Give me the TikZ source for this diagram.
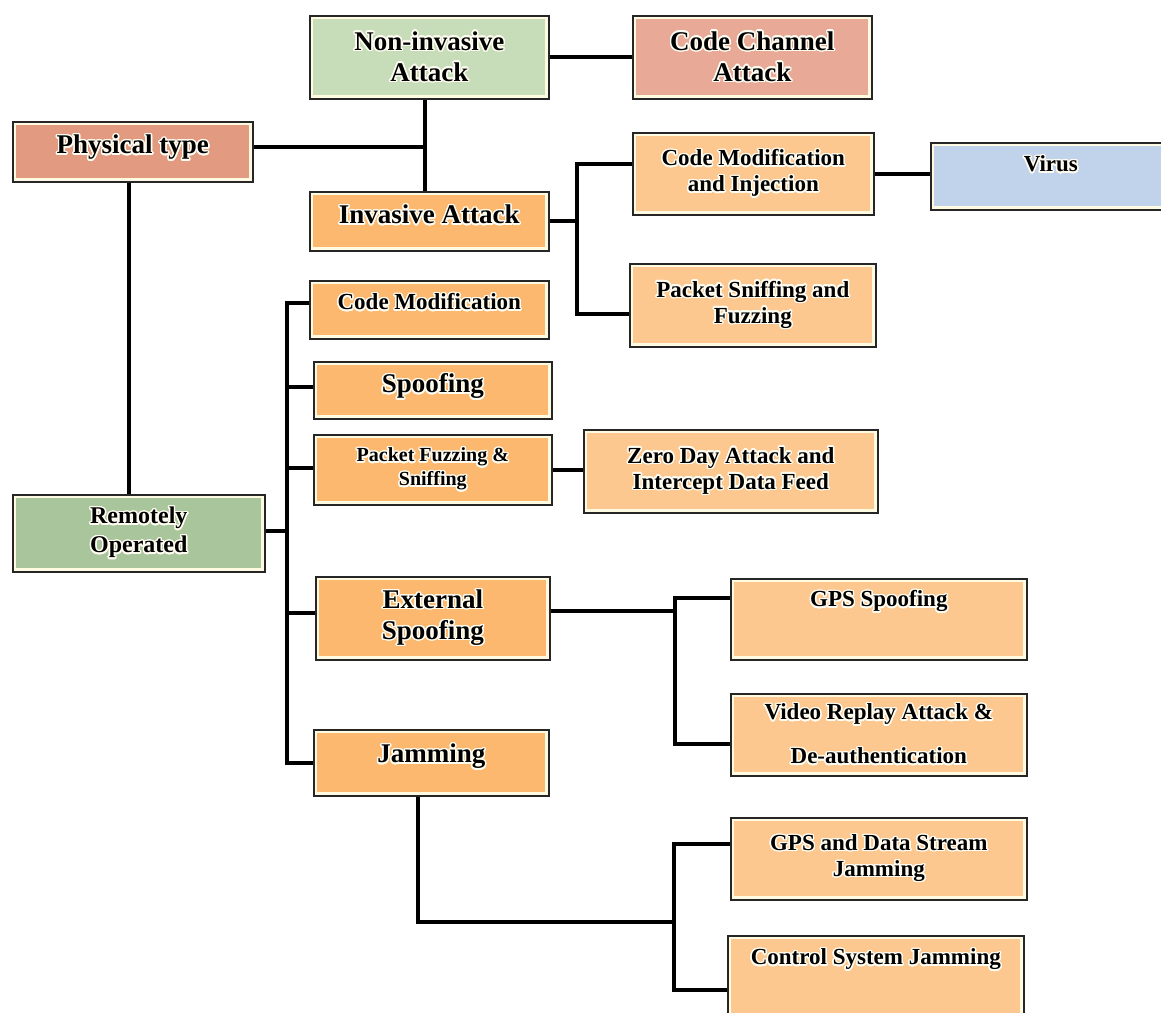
\documentclass[tikz,border=0pt]{standalone}
\usepackage{fontspec}
\setmainfont{Liberation Serif}
\usepackage{contour}
\contourlength{1.4pt}
\contournumber{24}
\usepackage{tikz}

\definecolor{nigreen}{HTML}{C7DDBA}
\definecolor{ccsalmon}{HTML}{E8A996}
\definecolor{physred}{HTML}{E29A80}
\definecolor{darkor}{HTML}{FCB86E}
\definecolor{lightor}{HTML}{FDC88F}
\definecolor{virblue}{HTML}{C1D3EB}
\definecolor{remgreen}{HTML}{A9C59C}
\definecolor{rim}{HTML}{FFFBE3}
\definecolor{glow}{HTML}{FFFDF2}
\newcommand{\gl}[1]{\contour{glow}{#1}}

\tikzset{
box/.style={draw=black!85, line width=1.6pt, fill=#1, anchor=north west, align=center,
  path picture={\draw[rim, line width=7pt] (path picture bounding box.south west) rectangle (path picture bounding box.north east);}},
big/.style={font=\bfseries\fontsize{27}{31}\selectfont},
mid/.style={font=\bfseries\fontsize{23}{26}\selectfont},
sml/.style={font=\bfseries\fontsize{20}{24}\selectfont},
one/.style 2 args={inner ysep=0pt, text height=#1pt, text depth=#2pt},
link/.style={line width=3.8pt, black},
}

\begin{document}
\begin{tikzpicture}[x=1pt,y=-1pt]
\useasboundingbox (0,0) rectangle (1161,1012);
\node[box=nigreen, big, minimum width=239pt, minimum height=83pt] (noninv) at (309,15) {\gl{Non-invasive}\\\gl{Attack}};
\node[box=ccsalmon, big, minimum width=239pt, minimum height=83pt] (codech) at (632,15) {\gl{Code Channel}\\\gl{Attack}};
\node[box=physred, big, one={32}{28}, minimum width=240pt, minimum height=60pt] (phys) at (12,121) {\gl{Physical type}};
\node[box=darkor, big, one={32}{27}, minimum width=239pt, minimum height=59pt] (inv) at (309,191) {\gl{Invasive Attack}};
\node[box=lightor, mid, minimum width=241pt, minimum height=82pt] (cmi) at (632,132) {\gl{Code Modification}\\\gl{and Injection}};
\node[box=virblue, mid, one={29}{38}, minimum width=240pt, minimum height=67pt] (virus) at (930,142) {\gl{Virus}};
\node[box=lightor, mid, minimum width=246pt, minimum height=83pt] (psf) at (629,263) {\gl{Packet Sniffing and}\\\gl{Fuzzing}};
\node[box=darkor, mid, one={29}{29}, minimum width=239pt, minimum height=58pt] (cmod) at (309,280) {\gl{Code Modification}};
\node[box=darkor, big, one={31}{26}, minimum width=238pt, minimum height=57pt] (spoof) at (313,361) {\gl{Spoofing}};
\node[box=darkor, sml, minimum width=238pt, minimum height=70pt] (pfs) at (313,434) {\gl{Packet Fuzzing \&}\\\gl{Sniffing}};
\node[box=lightor, mid, minimum width=294pt, minimum height=83pt] (zero) at (583,429) {\gl{Zero Day Attack and}\\\gl{Intercept Data Feed}};
\node[box=remgreen, font=\bfseries\fontsize{24}{29}\selectfont, minimum width=252pt, minimum height=77pt] (remote) at (12,494) {\gl{Remotely}\\\gl{Operated}};
\node[box=darkor, big, minimum width=234pt, minimum height=83pt] (ext) at (315,576) {\gl{External}\\\gl{Spoofing}};
\node[box=lightor, mid, one={28}{53}, minimum width=296pt, minimum height=81pt] (gpss) at (730,578) {\gl{GPS Spoofing}};
\node[box=lightor, mid, minimum width=296pt, minimum height=82pt] (video) at (730,693) {\gl{Video Replay Attack \&}\\[18pt]\gl{De-authentication}};
\node[box=darkor, big, one={33}{33}, minimum width=235pt, minimum height=66pt] (jam) at (313,729) {\gl{Jamming}};
\node[box=lightor, mid, minimum width=296pt, minimum height=82pt] (gpsd) at (730,817) {\gl{GPS and Data Stream}\\\gl{Jamming}};
\node[box=lightor, mid, one={29}{66}, minimum width=296pt, minimum height=95pt] (ctrl) at (727,935) {\gl{Control System Jamming}};

\draw[link] (noninv.east) -- (codech.west);
\draw[link] ([xshift=-4pt]noninv.south) -- ([xshift=-4pt]inv.north);
\draw[link] ([yshift=5pt]phys.east) -| ([xshift=-4pt]noninv.south);
\draw[link] ([xshift=-4pt]phys.south) -- ([xshift=-10pt]remote.north);
% invasive branch
\draw[link] (inv.east) -- ++(27,0) coordinate (ib);
\draw[link] ([yshift=10pt]cmi.west) -| (ib);
\draw[link] ([yshift=-9pt]psf.west) -| (ib);
\draw[link] (cmi.east) -- (cmi.east -| virus.west);
% remotely operated branch
\draw[link] ([yshift=2pt]remote.east) -- ++(21,0) coordinate (rb);
\foreach \n/\s in {cmod/7,spoof/3,pfs/2,ext/5,jam/0} {
\draw[link] ([yshift=\s pt]\n.west) -| (rb);
}
\draw[link] (pfs.east) -- (pfs.east -| zero.west);
\draw[link] ([yshift=7pt]ext.east) -- ++(124,0) coordinate (eb);
\draw[link] ([yshift=21pt]gpss.west) -| (eb);
\draw[link] ([yshift=-9pt]video.west) -| (eb);
\draw[link] ([xshift=-13pt]jam.south) -- ++(0,125) -- ++(256,0) coordinate (jb);
\draw[link] ([yshift=15pt]gpsd.west) -| (jb);
\draw[link] ([yshift=-7pt]ctrl.west) -| (jb);
\end{tikzpicture}
\end{document}
